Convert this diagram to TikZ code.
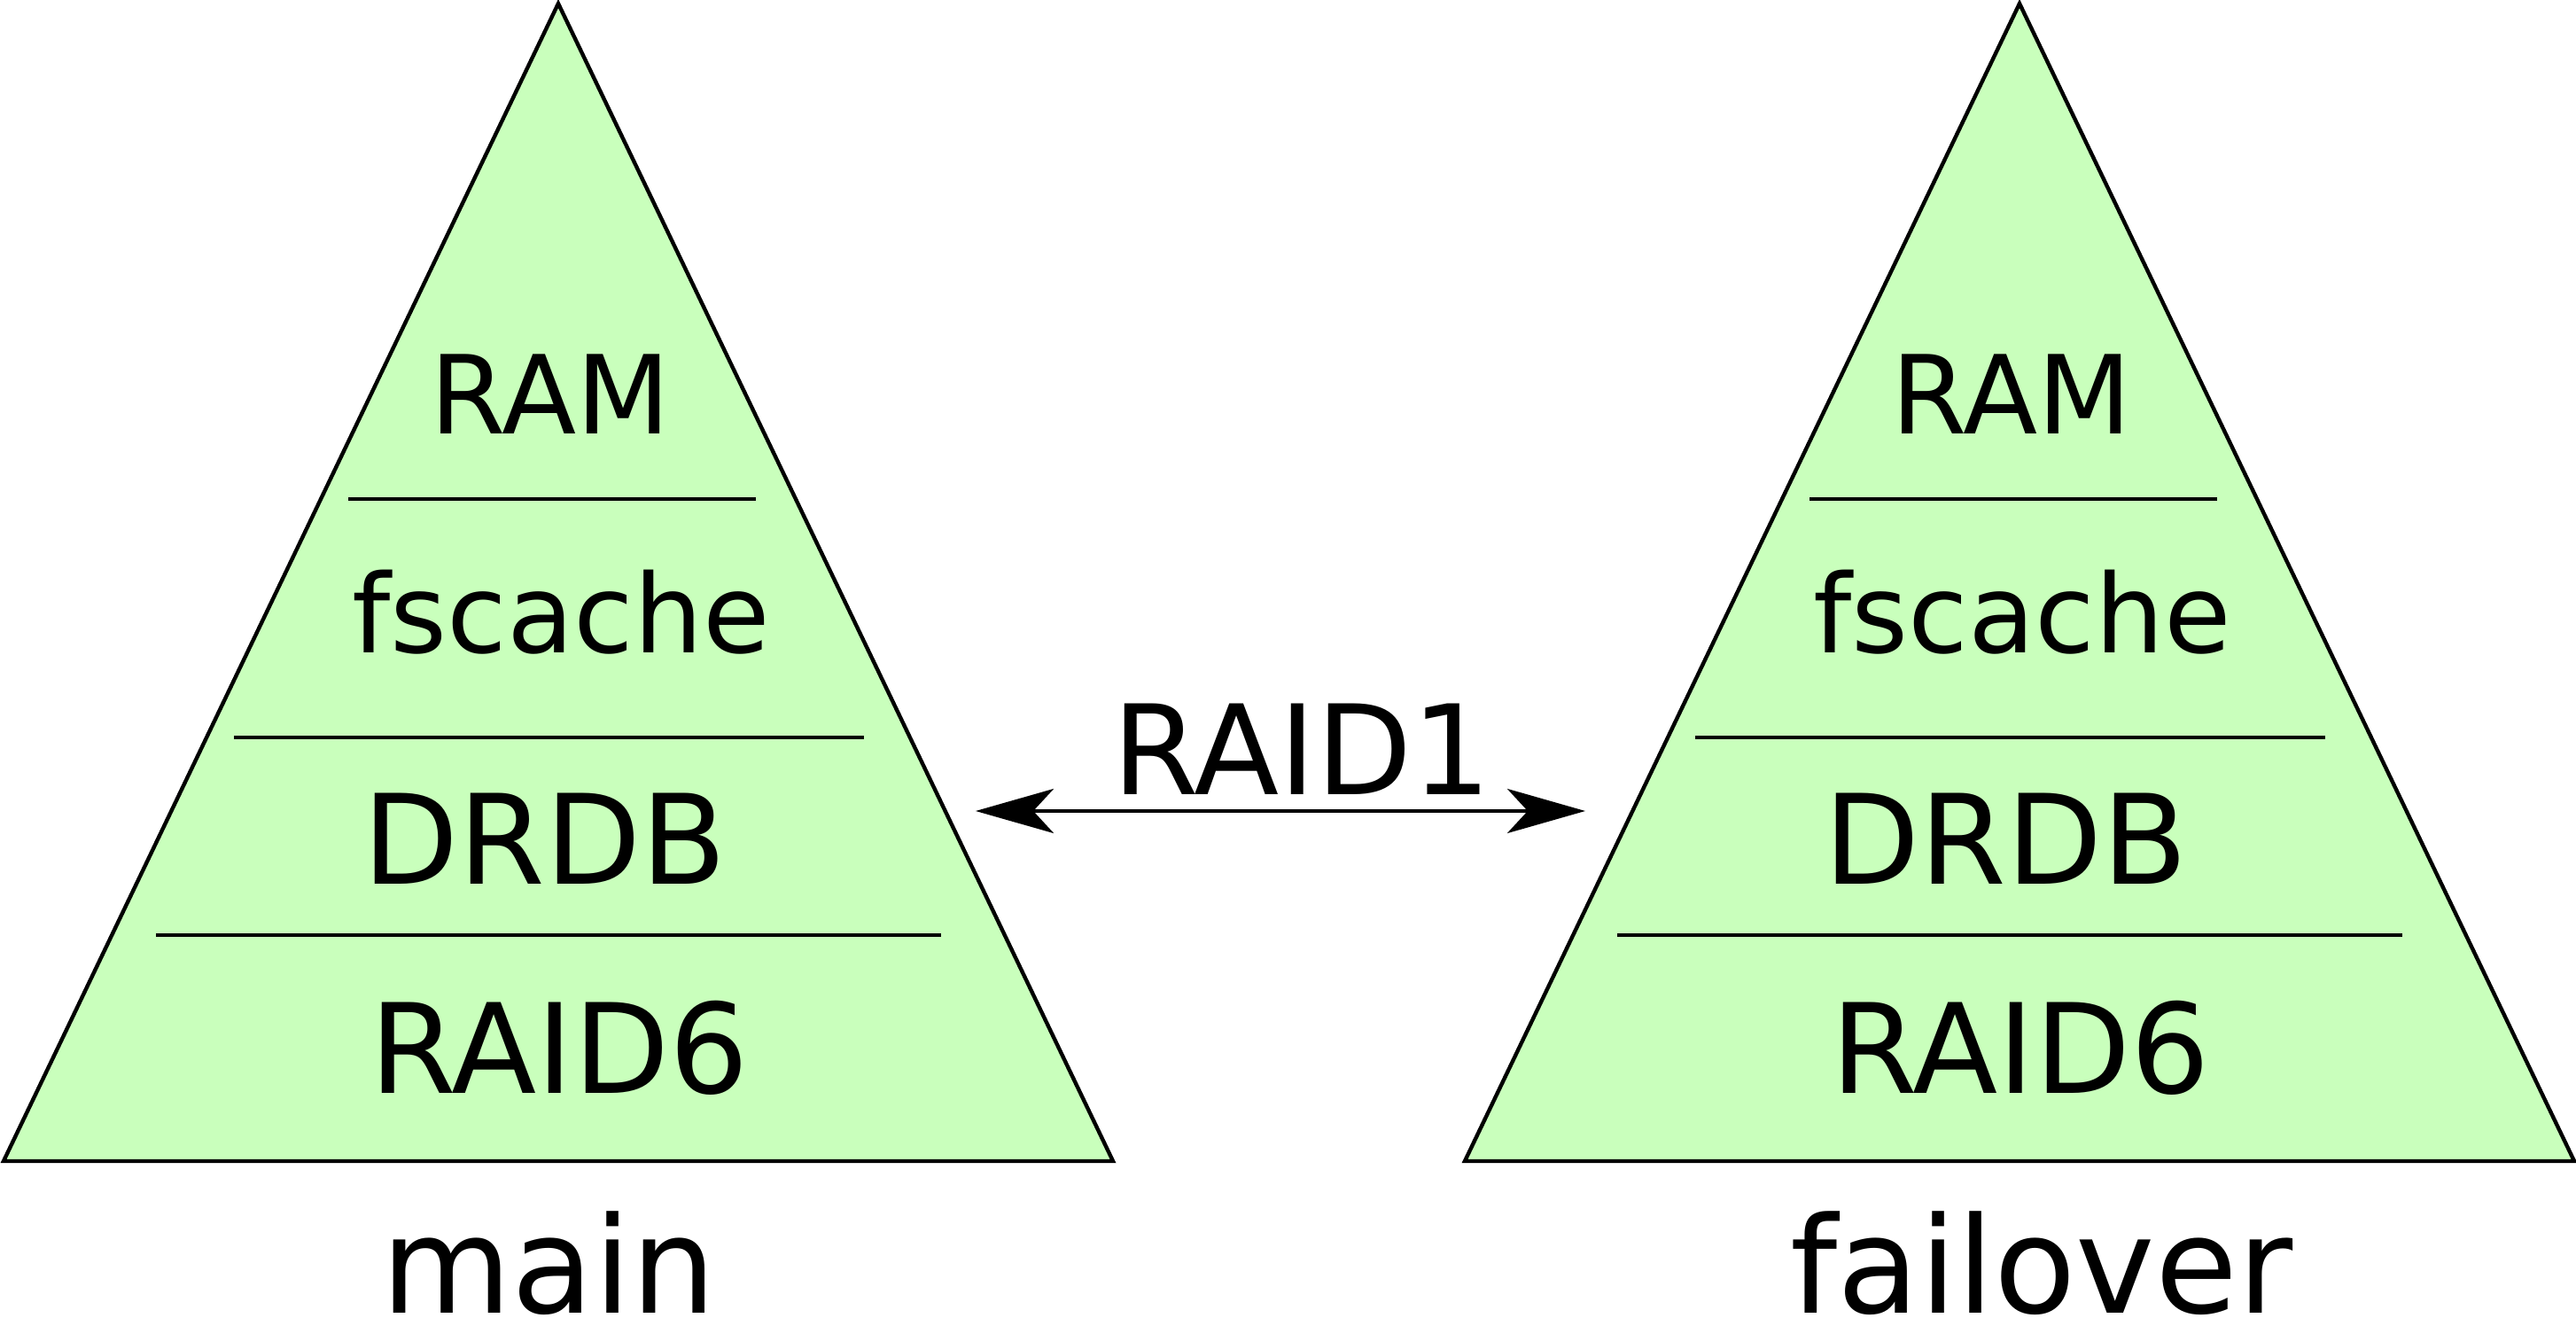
\documentclass[tikz,border=0pt]{standalone}
\usepackage{fontspec}
\setmainfont{DejaVu Sans}
\usetikzlibrary{arrows.meta,positioning}
\definecolor{stackgreen}{HTML}{C9FFBC}
\def \lw {1.25pt}

\tikzset{
  stack/.style={draw=black,fill=stackgreen,line width=\lw,line join=miter},
  sep/.style={draw=black,line width=\lw},
  layer/.style={inner sep=0pt,anchor=base,font=\fontsize{40}{44}\selectfont},
  small layer/.style={layer,font=\fontsize{35}{40}\selectfont},
  host/.style={inner sep=0pt,anchor=base,font=\fontsize{43}{48}\selectfont},
  sync/.style={line width=\lw,{Stealth[length=0.88cm,width=0.5cm,inset=0.23cm]}-{Stealth[length=0.88cm,width=0.5cm,inset=0.23cm]}}
}

\begin{document}
\begin{tikzpicture}
    \useasboundingbox (0,0) rectangle (29.07,14.86);
    % main
    \path[stack] (0.04,1.76) -- (6.30,14.82) -- (12.56,1.76) -- cycle;
    \path[sep] (3.93,9.23) -- (8.53,9.23);
    \path[sep] (2.64,6.54) -- (9.75,6.54);
    \path[sep] (1.76,4.31) -- (10.62,4.31);
    \node[small layer] (ramM) at (6.21,9.96) {RAM};
    \node[small layer] (cacheM) at (6.33,7.49) {fscache};
    \node[layer] (drbdM) at (6.15,4.88) {DRDB};
    \node[layer] (raidM) at (6.31,2.53) {RAID6};
    \node[host] (main) at (6.19,0.05) {main};
    % failover
    \path[stack] (16.53,1.76) -- (22.79,14.82) -- (29.05,1.76) -- cycle;
    \path[sep] (20.42,9.23) -- (25.02,9.23);
    \path[sep] (19.13,6.54) -- (26.24,6.54);
    \path[sep] (18.25,4.31) -- (27.11,4.31);
    \node[small layer] (ramF) at (22.70,9.96) {RAM};
    \node[small layer] (cacheF) at (22.82,7.49) {fscache};
    \node[layer] (drbdF) at (22.64,4.88) {DRDB};
    \node[layer] (raidF) at (22.80,2.53) {RAID6};
    \node[host] (failover) at (23.04,0.05) {failover};
    % replication
    \coordinate (syncM) at (11.01,5.71);
    \coordinate (syncF) at (17.89,5.71);
    \draw[sync] (syncM) -- (syncF);
    \node[layer] (raid1) at (14.69,5.89) {RAID1};
\end{tikzpicture}
\end{document}
